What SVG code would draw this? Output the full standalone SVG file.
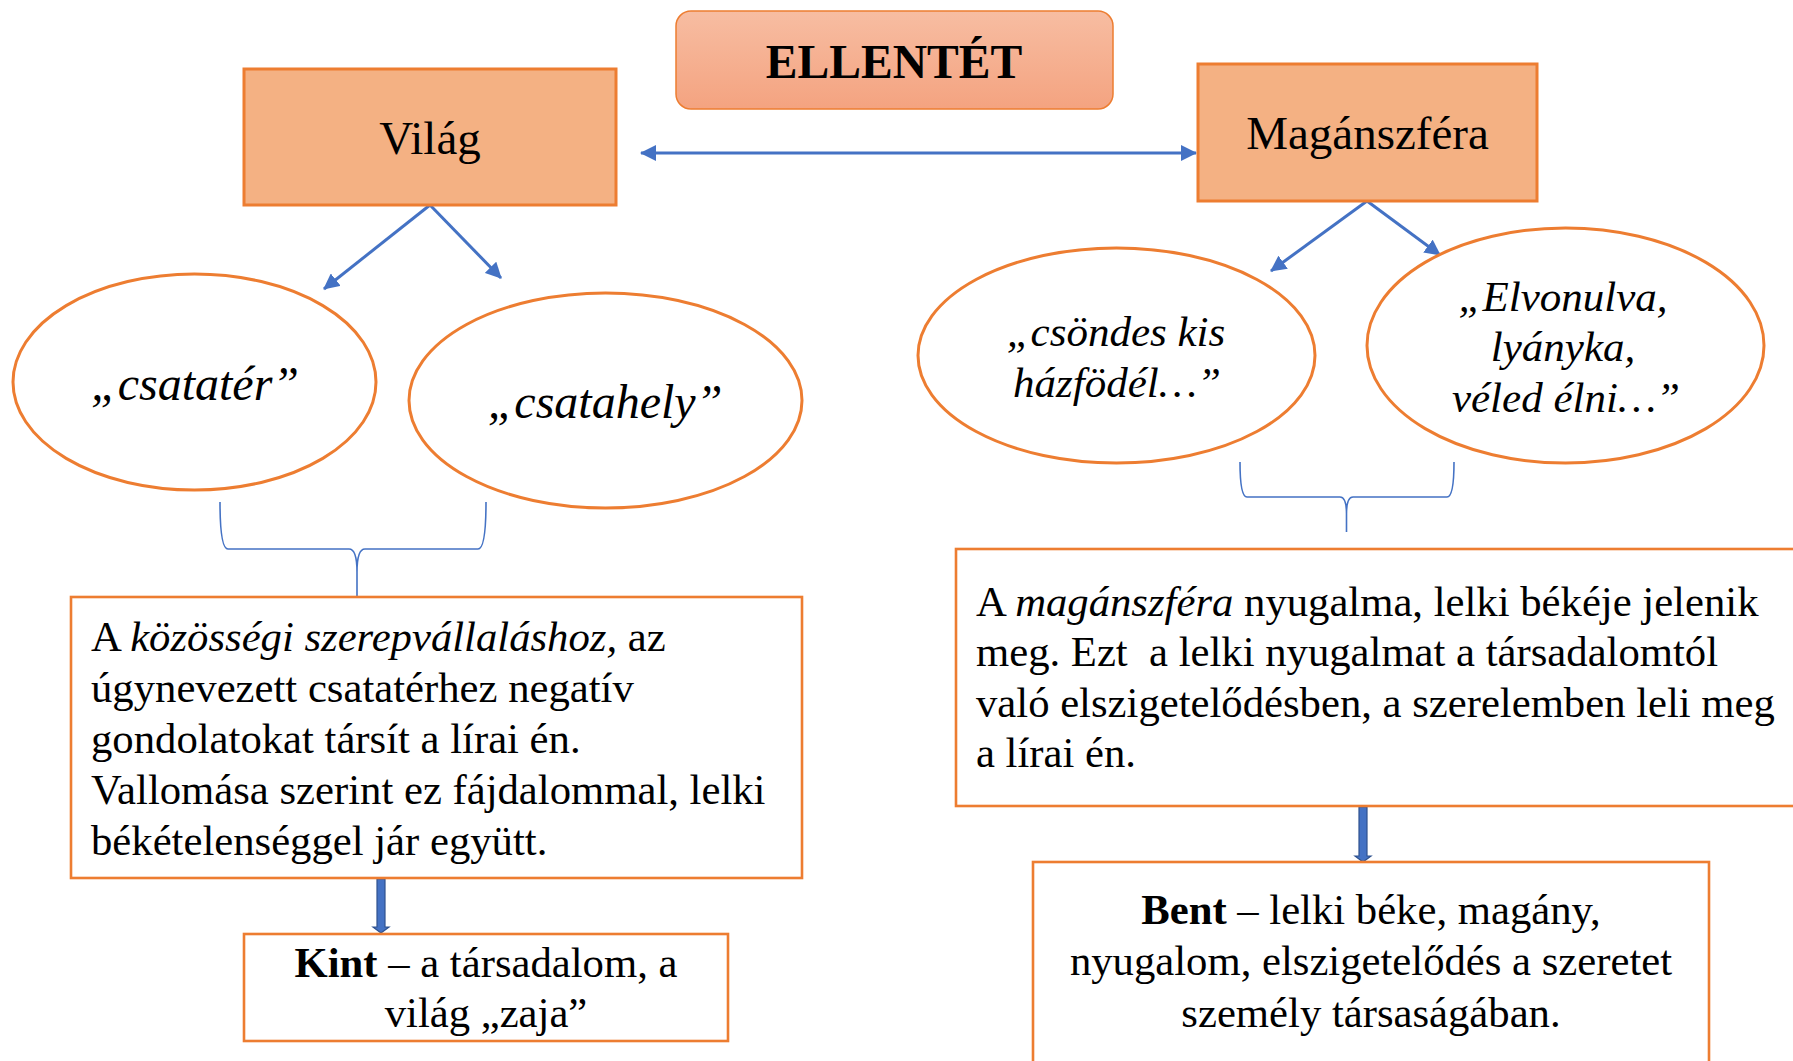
<svg xmlns="http://www.w3.org/2000/svg" width="1793" height="1061" viewBox="0 0 1793 1061">
<style>
.t{font-family:"Liberation Serif","Times New Roman",serif;fill:#000}
.c{text-anchor:middle}
.title{font-size:47px}
.tb{font-size:47.6px}
.oval{font-size:48px;font-style:italic}
.oval2{font-size:43px;font-style:italic}
.body{font-size:42.7px;white-space:pre}
.i{font-style:italic}
.b{font-weight:bold}
.box{fill:#fff;stroke:#ED7D31;stroke-width:2.6}
.head{fill:#F4B183;stroke:#ED7D31;stroke-width:3}
.ell{fill:#fff;stroke:#ED7D31;stroke-width:3}
.arr{stroke:#4472C4;stroke-width:3;fill:none}
.brace{stroke:#4472C4;stroke-width:1.6;fill:none}
.block{fill:#4472C4;stroke:#2F528F;stroke-width:1.2}
</style>
<defs>
<linearGradient id="g" x1="0" y1="0" x2="0" y2="1">
<stop offset="0" stop-color="#F7BDA2"/>
<stop offset="1" stop-color="#F4A380"/>
</linearGradient>
<marker id="ah" viewBox="0 0 16 16" refX="15" refY="8" markerWidth="16" markerHeight="16" markerUnits="userSpaceOnUse" orient="auto-start-reverse">
<path d="M0,0 L16,8 L0,16 z" fill="#4472C4"/>
</marker>
</defs>

<g id="connectors">
<line class="arr" x1="641" y1="153" x2="1196" y2="153" marker-start="url(#ah)" marker-end="url(#ah)"/>
<line class="arr" x1="430" y1="205" x2="324" y2="289" marker-end="url(#ah)"/>
<line class="arr" x1="430" y1="205" x2="501" y2="278" marker-end="url(#ah)"/>
<line class="arr" x1="1367" y1="201" x2="1271" y2="271" marker-end="url(#ah)"/>
<line class="arr" x1="1367" y1="201" x2="1440" y2="255" marker-end="url(#ah)"/>
<path class="brace" d="M220,502 Q220,549 228,549 L349,549 Q357,549 357,572 L357,596 M357,572 Q357,549 365,549 L478,549 Q486,549 486,502"/>
<path class="brace" d="M1240,462 Q1240,497 1247,497 L1340,497 Q1346.5,497 1346.5,514 L1346.5,532 M1346.5,514 Q1346.5,497 1353,497 L1447,497 Q1454,497 1454,462"/>
<polygon class="block" points="377,879 385,879 385,927 389,927 381,933 373,927 377,927"/>
<polygon class="block" points="1359,807 1367,807 1367,856 1371,856 1363,862 1355,856 1359,856"/>
</g>

<g id="ellentet">
<rect x="676" y="11" width="437" height="98" rx="15" fill="url(#g)" stroke="#ED7D31" stroke-width="1.5"/>
<text class="t c tb b" x="894" y="78">ELLENTÉT</text>
</g>

<g id="vilag">
<rect class="head" x="244" y="69" width="372" height="136"/>
<text class="t c title" x="430" y="154">Világ</text>
</g>

<g id="maganszfera">
<rect class="head" x="1198" y="64" width="339" height="137"/>
<text class="t c title" x="1367.5" y="149">Magánszféra</text>
</g>

<g id="csatater">
<ellipse class="ell" cx="194.5" cy="382" rx="181.5" ry="108"/>
<text class="t c oval" x="195" y="400">„csatatér”</text>
</g>

<g id="csatahely">
<ellipse class="ell" cx="605.5" cy="400.5" rx="196.5" ry="107.5"/>
<text class="t c oval" x="605" y="418">„csatahely”</text>
</g>

<g id="csondes">
<ellipse class="ell" cx="1116.5" cy="355.5" rx="198.5" ry="107.5"/>
<text class="t c oval2" x="1116" y="346">„csöndes kis</text>
<text class="t c oval2" x="1117" y="397">házfödél…”</text>
</g>

<g id="elvonulva">
<ellipse class="ell" cx="1565.5" cy="345.5" rx="198.5" ry="117.5"/>
<text class="t c oval2" x="1563" y="311">„Elvonulva,</text>
<text class="t c oval2" x="1563" y="361">lyányka,</text>
<text class="t c oval2" x="1566" y="412">véled élni…”</text>
</g>

<g id="kozossegi">
<rect class="box" x="71" y="597" width="731" height="281"/>
<text class="t body" x="91" y="651">A <tspan class="i">közösségi szerepvállaláshoz,</tspan> az</text>
<text class="t body" x="91" y="702">úgynevezett csatatérhez negatív</text>
<text class="t body" x="91" y="753">gondolatokat társít a lírai én.</text>
<text class="t body" x="91" y="804">Vallomása szerint ez fájdalommal, lelki</text>
<text class="t body" x="91" y="855">békételenséggel jár együtt.</text>
</g>

<g id="maganszfera-szoveg">
<rect class="box" x="956" y="549" width="860" height="257"/>
<text class="t body" x="976" y="616">A <tspan class="i">magánszféra</tspan> nyugalma, lelki békéje jelenik</text>
<text class="t body" x="976" y="666">meg. Ezt  a lelki nyugalmat a társadalomtól</text>
<text class="t body" x="976" y="717">való elszigetelődésben, a szerelemben leli meg</text>
<text class="t body" x="976" y="767">a lírai én.</text>
</g>

<g id="kint">
<rect class="box" x="244" y="934" width="484" height="107"/>
<text class="t c body" x="486" y="977"><tspan class="b">Kint</tspan> – a társadalom, a</text>
<text class="t c body" x="486" y="1027">világ „zaja”</text>
</g>

<g id="bent">
<rect class="box" x="1033" y="862" width="676" height="220"/>
<text class="t c body" x="1371" y="924"><tspan class="b">Bent</tspan> – lelki béke, magány,</text>
<text class="t c body" x="1371" y="975">nyugalom, elszigetelődés a szeretet</text>
<text class="t c body" x="1371" y="1027">személy társaságában.</text>
</g>
</svg>
